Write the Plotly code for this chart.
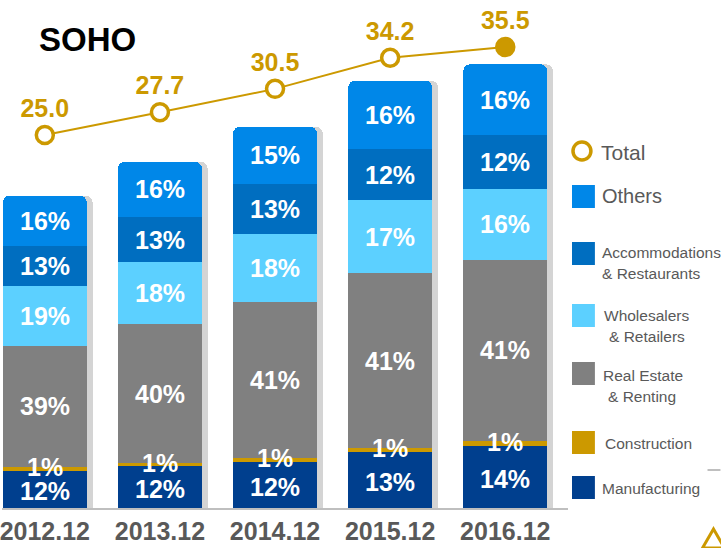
import plotly.graph_objects as go

# ---- data ----
years = ["2012.12", "2013.12", "2014.12", "2015.12", "2016.12"]
totals = [25.0, 27.7, 30.5, 34.2, 35.5]

sectors = ["Manufacturing", "Construction", "Real Estate & Renting",
           "Wholesalers & Retailers", "Accommodations & Restaurants", "Others"]
pct_manufacturing = [12, 12, 12, 13, 14]
pct_construction = [1, 1, 1, 1, 1]
pct_real_estate = [39, 40, 41, 41, 41]
pct_wholesale = [19, 18, 18, 17, 16]
pct_accommodation = [13, 13, 13, 12, 12]
pct_others = [16, 16, 15, 16, 16]

shares = [pct_manufacturing, pct_construction, pct_real_estate,
          pct_wholesale, pct_accommodation, pct_others]
colors = ["#003F8E", "#CC9900", "#808080", "#5CD0FF", "#006EC0", "#0087E8"]

GOLD = "#CC9900"
GRAY_TXT = "#595959"
FONT = "Liberation Sans, Arial"

fig = go.Figure()

# soft drop shadow behind each bar stack
fig.add_trace(go.Bar(
    x=years, y=totals, width=0.73, offset=-0.365 + 0.05,
    marker=dict(color="rgba(60,60,60,0.22)", line=dict(width=0)),
    yaxis="y", hoverinfo="skip", showlegend=False,
))

# stacked sector bars, heights scaled by each year's total
for name, pct, col in zip(sectors, shares, colors):
    vals = [t * p / 100 for t, p in zip(totals, pct)]
    fig.add_trace(go.Bar(
        x=years, y=vals, name=name, width=0.73,
        marker=dict(color=col, line=dict(width=0)),
        yaxis="y2", showlegend=False,
    ))

# percentage labels centred on each segment
annotations = []
for xi, yr in enumerate(years):
    base = 0.0
    for si, pct in enumerate(shares):
        v = totals[xi] * pct[xi] / 100
        annotations.append(dict(
            x=xi, y=base + v / 2, xref="x", yref="y2",
            text=f"<b>{pct[xi]}%</b>", showarrow=False,
            font=dict(family=FONT, size=25, color="white"),
            yshift=2 if si == 1 else (-2 if si == 0 else 0),
        ))
        base += v

# total line
fig.add_trace(go.Scatter(
    x=years, y=totals, yaxis="y3", mode="lines+markers+text",
    line=dict(color=GOLD, width=2),
    marker=dict(size=17, color=["white"] * 4 + [GOLD],
                line=dict(color=GOLD, width=3.5)),
    text=[f"<b>{t:.1f}</b>" for t in totals], textposition="top center",
    textfont=dict(family=FONT, size=25, color=GOLD),
    showlegend=False,
))

fig.update_layout(
    width=721, height=548,
    margin=dict(l=0, r=153, t=0, b=40),
    paper_bgcolor="white", plot_bgcolor="white",
    barmode="stack", bargap=0.27, barcornerradius=7,
    xaxis=dict(
        type="category", range=[-0.372, 4.545],
        showgrid=False, zeroline=False,
        showline=True, linecolor="#BFBFBF", linewidth=2,
        ticks="", tickfont=dict(family=FONT, size=25,
                                color=GRAY_TXT, weight="bold"),
    ),
    yaxis=dict(range=[0, 40.64], visible=False, fixedrange=True),
    yaxis2=dict(range=[0, 40.64], overlaying="y", visible=False),
    yaxis3=dict(range=[-19.5, 41.1], overlaying="y", visible=False),
    showlegend=False,
)

# pixel -> paper coordinates
plot_w, plot_h = 721 - 153, 548 - 40


def px(x, y):
    return x / plot_w, 1 - y / plot_h


# title
tx, ty = px(35, 40)
annotations.append(dict(
    x=tx, y=ty, xref="paper", yref="paper", xanchor="left", yanchor="middle",
    text="<b>SOHO</b>", showarrow=False,
    font=dict(family=FONT, size=33, color="black"),
))

# legend, drawn beside the plot
shapes = []
legend_items = [
    (colors[5], 185, 208, ["Others"], [196], 20, 600, [0]),
    (colors[4], 242, 265, ["Accommodations", "& Restaurants"], [252, 273], 15.5, 600, [0, 0]),
    (colors[3], 304, 327, ["Wholesalers", "& Retailers"], [315, 336], 15.5, 602, [0, 5]),
    (colors[2], 362, 385, ["Real Estate", "& Renting"], [375, 396], 15.5, 601, [0, 5]),
    (colors[1], 431, 454, ["Construction"], [443], 15.5, 603, [0]),
    (colors[0], 476, 499, ["Manufacturing"], [488], 15.5, 600, [0]),
]
for col, y0, y1, lines, ys, fs, lx, indents in legend_items:
    x0p, y0p = px(572, y0)
    x1p, y1p = px(595, y1)
    shapes.append(dict(type="rect", xref="paper", yref="paper",
                       x0=x0p, x1=x1p, y0=y1p, y1=y0p,
                       fillcolor=col, line=dict(width=0)))
    for ln, yy, ind in zip(lines, ys, indents):
        xp, yp = px(lx + ind, yy)
        annotations.append(dict(x=xp, y=yp, xref="paper", yref="paper",
                                xanchor="left", yanchor="middle", text=ln,
                                showarrow=False,
                                font=dict(family=FONT, size=fs, color=GRAY_TXT)))

# "Total" legend entry with ring marker
cx0, cy0 = px(573, 142)
cx1, cy1 = px(591, 160)
shapes.append(dict(type="circle", xref="paper", yref="paper",
                   x0=cx0, x1=cx1, y0=cy1, y1=cy0,
                   fillcolor="white", line=dict(color=GOLD, width=3.5)))
xp, yp = px(599, 152)
annotations.append(dict(x=xp, y=yp, xref="paper", yref="paper",
                        xanchor="left", yanchor="middle", text="Total",
                        showarrow=False,
                        font=dict(family=FONT, size=21, color=GRAY_TXT)))

# small decorative marks at the right edge
a0, b0 = px(708, 470)
a1, b1 = px(721, 470)
shapes.append(dict(type="line", xref="paper", yref="paper",
                   x0=a0, x1=a1, y0=b0, y1=b1,
                   line=dict(color="#BFBFBF", width=2)))
p1 = px(703, 548)
p2 = px(714, 529)
p3 = px(725, 548)
shapes.append(dict(type="path", xref="paper", yref="paper",
                   path=f"M {p1[0]} {p1[1]} L {p2[0]} {p2[1]} L {p3[0]} {p3[1]} Z",
                   fillcolor="rgba(0,0,0,0)", line=dict(color=GOLD, width=3)))

fig.update_layout(annotations=annotations, shapes=shapes)

fig.write_html("out.html")
